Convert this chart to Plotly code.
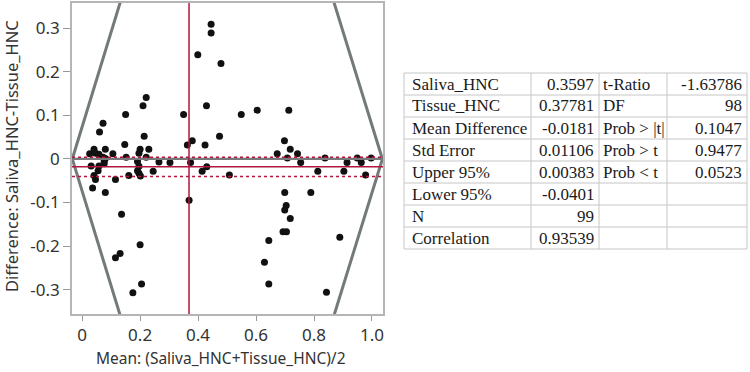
import plotly.graph_objects as go

# ---- Bland-Altman data: mean of the two methods vs difference ----
mean_vals = [0.221, 0.210, 0.150, 0.072, 0.060, 0.214, 0.147, 0.041, 0.080, 0.200,
             0.230, 0.026, 0.046, 0.058, 0.106, 0.196, 0.072, 0.152, 0.221, 0.080,
             0.076, 0.031, 0.058, 0.191, 0.196, 0.265, 0.303, 0.055, 0.245, 0.191,
             0.196, 0.201, 0.161, 0.115, 0.041, 0.046, 0.036, 0.080, 0.136, 0.200,
             0.131, 0.115, 0.205, 0.175, 0.445, 0.445, 0.399, 0.479, 0.429, 0.350,
             0.549, 0.604, 0.713, 0.474, 0.380, 0.363, 0.424, 0.374, 0.430, 0.414,
             0.508, 0.369, 0.698, 0.718, 0.673, 0.743, 0.754, 0.708, 0.838, 0.949,
             0.997, 0.914, 0.963, 0.813, 0.903, 0.978, 0.699, 0.789, 0.704, 0.699,
             0.718, 0.693, 0.705, 0.644, 0.889, 0.629, 0.644, 0.843, 0.076]
diff_vals = [0.141, 0.122, 0.102, 0.082, 0.062, 0.052, 0.033, 0.022, 0.022, 0.022,
             0.022, 0.012, 0.013, 0.011, 0.012, 0.013, 0.004, 0.004, 0.004, 0.001,
             -0.006, -0.016, -0.016, -0.006, -0.017, -0.007, -0.008, -0.027, -0.028, -0.027,
             -0.033, -0.039, -0.038, -0.047, -0.038, -0.047, -0.067, -0.077, -0.127, -0.197,
             -0.217, -0.227, -0.287, -0.307, 0.309, 0.289, 0.239, 0.219, 0.122, 0.102,
             0.102, 0.112, 0.112, 0.052, 0.042, 0.032, 0.032, -0.008, -0.018, -0.028,
             -0.037, -0.095, 0.042, 0.022, 0.012, 0.012, -0.008, 0.002, 0.002, 0.002,
             0.002, -0.008, -0.008, -0.028, -0.028, -0.037, -0.077, -0.077, -0.107, -0.117,
             -0.137, -0.167, -0.167, -0.187, -0.180, -0.237, -0.287, -0.306, -0.011]

# summary statistics
saliva_mean = 0.3597
tissue_mean = 0.37781
mean_diff = -0.0181
upper_95 = 0.00383
lower_95 = -0.0401

# envelope (limits of possible differences)
env_x = [0.150, -0.034, 0.150, None, 0.850, 1.036, 0.850]
env_y = [0.40, 0.0, -0.40, None, 0.40, 0.0, -0.40]

x_ticks = [0, 0.2, 0.4, 0.6, 0.8, 1.0]
x_tick_text = ["0", "0.2", "0.4", "0.6", "0.8", "1.0"]
y_ticks = [-0.3, -0.2, -0.1, 0, 0.1, 0.2, 0.3]
y_tick_text = ["-0.3", "-0.2", "-0.1", "0", "0.1", "0.2", "0.3"]

x_title = "Mean: (Saliva_HNC+Tissue_HNC)/2"
y_title = "Difference: Saliva_HNC-Tissue_HNC"

# table contents
stat_names = ["Saliva_HNC", "Tissue_HNC", "Mean Difference", "Std Error",
              "Upper 95%", "Lower 95%", "N", "Correlation"]
stat_values = ["0.3597", "0.37781", "-0.0181", "0.01106",
               "0.00383", "-0.0401", "99", "0.93539"]
test_names = ["t-Ratio", "DF", "Prob &gt; |t|", "Prob &gt; t", "Prob &lt; t", "", "", ""]
test_values = ["-1.63786", "98", "0.1047", "0.9477", "0.0523", "", "", ""]

W, H = 750, 372
PX0, PX1, PY0, PY1 = 72, 383, 3, 314

red = "#b0163f"
grey = "#747a7a"
font_sans = "Noto Sans"
font_serif = "Liberation Serif"


def px(xp):
    return xp / W


def py(yp):
    return 1 - yp / H


fig = go.Figure()

fig.add_trace(go.Scatter(
    x=mean_vals, y=diff_vals, mode="markers",
    marker=dict(color="#111111", size=7, line=dict(width=0)),
    showlegend=False, hoverinfo="x+y"))

fig.add_trace(go.Scatter(
    x=env_x, y=env_y, mode="lines",
    line=dict(color=grey, width=3), showlegend=False, hoverinfo="skip"))

# reference lines
fig.add_shape(type="line", xref="x domain", yref="y", x0=0, x1=1, y0=0, y1=0,
              line=dict(color=grey, width=2.2), layer="above")
for val, dash in [(upper_95, "3px,3px"), (lower_95, "3px,3px"), (mean_diff, "solid")]:
    fig.add_shape(type="line", xref="x domain", yref="y", x0=0, x1=1, y0=val, y1=val,
                  line=dict(color=red, width=1.5, dash=dash), layer="above")
mean_of_means = (saliva_mean + tissue_mean) / 2
fig.add_shape(type="line", xref="x", yref="y domain", x0=mean_of_means, x1=mean_of_means,
              y0=0, y1=1, line=dict(color=red, width=1.5), layer="above")

# axis titles
fig.add_annotation(text=x_title, xref="paper", yref="paper", x=px(221), y=py(358),
                   xanchor="center", yanchor="middle", showarrow=False,
                   font=dict(family=font_sans, size=15.5, color="#333333"))
fig.add_annotation(text=y_title, xref="paper", yref="paper", x=px(11), y=py(156),
                   xanchor="center", yanchor="middle", showarrow=False, textangle=-90,
                   font=dict(family=font_sans, size=16.5, color="#333333"))

# statistics table (grid + cell texts)
col_edges = [404, 531, 599, 667, 747]
row_top, row_h = 73, 22
n_rows = len(stat_names)
grid = dict(color="#c6c6c6", width=1)
for i in range(n_rows + 1):
    yy = py(row_top + i * row_h)
    fig.add_shape(type="line", xref="paper", yref="paper", x0=px(col_edges[0]),
                  x1=px(col_edges[-1]), y0=yy, y1=yy, line=grid)
for xe in col_edges:
    fig.add_shape(type="line", xref="paper", yref="paper", x0=px(xe), x1=px(xe),
                  y0=py(row_top), y1=py(row_top + n_rows * row_h), line=grid)

columns = [(stat_names, "left"), (stat_values, "right"), (test_names, "left"), (test_values, "right")]
pads = [6, 3, 2, 3]
for c, (vals, al) in enumerate(columns):
    for r, v in enumerate(vals):
        if not v:
            continue
        yc = py(row_top + r * row_h + row_h / 2)
        if al == "left":
            xx, xa = px(col_edges[c] + pads[c]), "left"
        else:
            xx, xa = px(col_edges[c + 1] - pads[c]), "right"
        fig.add_annotation(text=v, xref="paper", yref="paper", x=xx, y=yc,
                           xanchor=xa, yanchor="middle", showarrow=False,
                           font=dict(family=font_serif, size=17, color="#1a1a1a"))

fig.update_layout(
    width=W, height=H,
    margin=dict(l=0, r=0, t=0, b=0),
    paper_bgcolor="white", plot_bgcolor="white",
    font=dict(family=font_sans, color="#333333"),
    showlegend=False,
    xaxis=dict(
        domain=[PX0 / W, PX1 / W], range=[-0.035, 1.038],
        tickvals=x_ticks, ticktext=x_tick_text,
        ticks="outside", ticklen=5, tickcolor="#999999",
        tickfont=dict(size=17, color="#333333"),
        showgrid=False, zeroline=False, showline=True, mirror=True,
        linecolor="#b5b5b5", linewidth=1.5, automargin=False),
    yaxis=dict(
        domain=[1 - PY1 / H, 1 - PY0 / H], range=[-0.356, 0.358],
        tickvals=y_ticks, ticktext=y_tick_text,
        ticks="outside", ticklen=7, tickcolor="#999999",
        tickfont=dict(size=17, color="#333333"),
        showgrid=False, zeroline=False, showline=True, mirror=True,
        linecolor="#b5b5b5", linewidth=1.5, automargin=False),
)

fig.write_html("out.html", config={"displayModeBar": False},
               post_script="document.body.style.margin='0';document.body.style.overflow='hidden';")
